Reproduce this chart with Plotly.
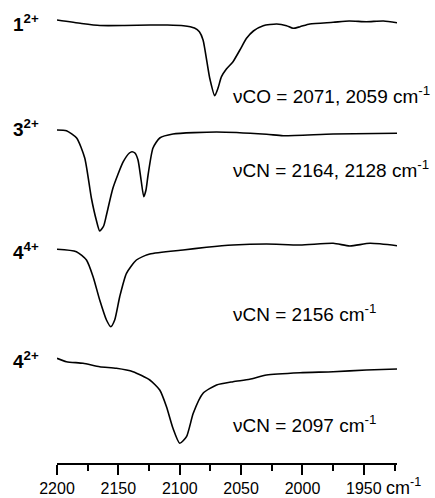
import plotly.graph_objects as go

# Wavenumbers (cm-1) and signal heights (arbitrary units, stacked)
wn_1 = [2200, 2180, 2165, 2145, 2124, 2110, 2097, 2088, 2084, 2081, 2075.6, 2071.5, 2068.8,
        2066, 2062, 2056.6, 2051, 2045.6, 2040, 2032, 2021, 2013, 2007.7, 2002, 1994, 1975,
        1962, 1948, 1934, 1923]
y_1 = [443, 439.5, 437.5, 437.5, 438, 438, 437.3, 435, 431.3, 423, 385, 367.3, 375,
       386.3, 394, 401.3, 413, 424.7, 432, 437.3, 439, 437.3, 434.7, 436.3, 439, 440.7,
       442, 441.3, 442, 440.3]

wn_3 = [2200, 2192.3, 2184, 2177.4, 2172, 2168, 2165.2, 2162, 2159.7, 2154.4, 2146, 2141,
        2138.9, 2136.5, 2134, 2131.5, 2129.3, 2127.5, 2125.8, 2121.8, 2116.3, 2105.5, 2070,
        2029.3, 2015.8, 1975, 1923]
y_3 = [333, 332.3, 325, 305, 265, 243, 232, 237, 248, 275, 301.3, 310, 311.3, 310, 303,
       283, 266.3, 273, 288, 315, 325, 329, 331, 328.7, 327.3, 329, 329.7]

wn_44 = [2200, 2184.2, 2176, 2170.6, 2165.2, 2159.7, 2156.2, 2153, 2148.9, 2143.4, 2135.3,
         2124.4, 2097.3, 2078.2, 2056.6, 2029.3, 2002, 1975, 1961.4, 1945, 1923]
y_44 = [213.7, 211.3, 203, 186.3, 163, 143, 136.3, 143, 166.3, 189.7, 203, 209, 213, 215.7,
        218, 219, 218, 219.7, 217, 219.7, 217.3]

wn_42 = [2200, 2192.3, 2178.8, 2165.2, 2151.6, 2138.1, 2124.4, 2116.3, 2110.8, 2105.5, 2100,
         2094.5, 2089, 2081, 2070, 2056.6, 2043, 2029.3, 2002, 1975, 1948, 1923]
y_42 = [104.7, 101.3, 99.7, 96.3, 94.7, 91.3, 83, 73, 56.3, 34.7, 19.7, 26.3, 49.7, 69.7,
        78, 81.3, 83.7, 88, 90.3, 91.3, 93, 94]

compound_labels = ["1", "3", "4", "4"]
charge_labels = ["2+", "2+", "4+", "2+"]
label_heights = [440.5, 335.5, 212, 103.5]

band_texts = ["νCO = 2071, 2059 cm<sup>-1</sup>", "νCN = 2164, 2128 cm<sup>-1</sup>",
              "νCN = 2156 cm<sup>-1</sup>", "νCN = 2097 cm<sup>-1</sup>"]
band_heights = [368, 294, 150.5, 39]

tick_vals = [2200, 2150, 2100, 2050, 2000, 1950]
tick_text = ["2200", "2150", "2100", "2050", "2000", "1950"]

FONT = "Liberation Sans, Arial, sans-serif"

fig = go.Figure()
for wn, yy in [(wn_1, y_1), (wn_3, y_3), (wn_44, y_44), (wn_42, y_42)]:
    fig.add_trace(go.Scatter(x=wn, y=yy, mode="lines",
                             line=dict(color="black", width=1.6, shape="spline", smoothing=0.6),
                             showlegend=False, hoverinfo="skip"))

for c, q, h in zip(compound_labels, charge_labels, label_heights):
    fig.add_annotation(x=-0.135, y=h, xref="paper", yref="y", xanchor="left", yanchor="middle",
                       text=f"<b>{c}<sup>{q}</sup></b>", showarrow=False,
                       font=dict(family=FONT, size=19, color="black"))

for t, h in zip(band_texts, band_heights):
    fig.add_annotation(x=2058, y=h, xref="x", yref="y", xanchor="left", yanchor="middle",
                       text=t, showarrow=False,
                       font=dict(family=FONT, size=19, color="black"))

fig.add_annotation(x=0.962, y=-0.052, xref="paper", yref="paper", xanchor="left", yanchor="middle",
                   text="cm<sup>-1</sup>", showarrow=False,
                   font=dict(family=FONT, size=18, color="black"))

fig.update_layout(
    width=435, height=498,
    margin=dict(l=57, r=38, t=10, b=35),
    paper_bgcolor="white", plot_bgcolor="white",
    xaxis=dict(range=[2200, 1923], showgrid=False, zeroline=False, automargin=False,
               showline=True, linecolor="black", linewidth=1.5,
               ticks="outside", ticklen=10, tickwidth=1.5, tickcolor="black",
               tickvals=tick_vals, ticktext=tick_text, ticklabelstandoff=0,
               tickfont=dict(family=FONT, size=16, color="black"),
               minor=dict(dtick=25, tick0=2200, ticks="outside", ticklen=6,
                          tickwidth=1.5, tickcolor="black", showgrid=False)),
    yaxis=dict(range=[0, 453], visible=False, showgrid=False, zeroline=False,
               automargin=False),
)

fig.write_html("out.html")
